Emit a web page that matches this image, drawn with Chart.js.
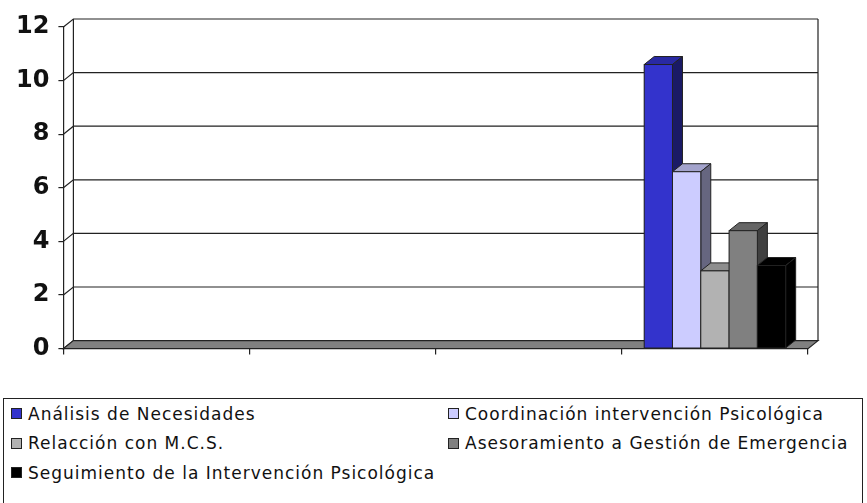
<!DOCTYPE html>
<html>
<head>
<meta charset="utf-8">
<script src="https://cdn.jsdelivr.net/npm/chart.js@4"></script>
<style>
  body { margin: 0; background: #fff; }
  #wrap { position: relative; width: 867px; height: 503px; }
  #chart { position: absolute; left: 0; top: 0; }
  #legend {
    position: absolute; left: 3px; top: 398px; width: 860px; height: 110px;
    border: 1.5px solid #222; box-sizing: border-box;
    font-family: "DejaVu Sans", sans-serif; font-size: 17px; color: #111;
    display: grid; grid-template-columns: 437px 1fr; grid-auto-rows: 29.5px;
    padding: 0 0 0 7px;
  }
  #legend span.item { display: flex; align-items: center; white-space: nowrap; letter-spacing: 1px; }
  #legend i { display: inline-block; width: 9px; height: 9px; border: 1px solid #222; margin-right: 6px; }
</style>
</head>
<body>
<div id="wrap">
  <canvas id="chart" width="867" height="372"></canvas>
  <div id="legend"></div>
</div>
<script>
// four categories, only the last one has data
const categories = ['', '', '', ''];
const seriesNames = [
  'Análisis de Necesidades',
  'Coordinación intervención Psicológica',
  'Relacción con M.C.S.',
  'Asesoramiento a Gestión de Emergencia',
  'Seguimiento de la Intervención Psicológica'
];
const seriesValues = [
  [0, 0, 0, 10.6],
  [0, 0, 0, 6.6],
  [0, 0, 0, 2.9],
  [0, 0, 0, 4.4],
  [0, 0, 0, 3.1]
];
const frontColors = ['#3333CC', '#CCCCFF', '#B2B2B2', '#808080', '#000000'];
const topColors   = ['#2929A3', '#A3A3CC', '#8E8E8E', '#666666', '#000000'];
const sideColors  = ['#1A1A66', '#666680', '#595959', '#404040', '#000000'];
const yTicks = [0, 2, 4, 6, 8, 10, 12];

// 3D depth offset
const DX = 10, DY = -8;

const depthPlugin = {
  id: 'depth',
  beforeDatasetsDraw(chart) {
    const { ctx, chartArea: a, scales: { y } } = chart;
    ctx.save();
    ctx.strokeStyle = '#222';
    ctx.lineWidth = 1.2;
    // gridlines on the left wall and back wall
    yTicks.forEach(v => {
      const py = y.getPixelForValue(v);
      ctx.beginPath();
      ctx.moveTo(a.left, py);
      ctx.lineTo(a.left + DX, py + DY);
      if (v > 0) ctx.lineTo(a.right + DX, py + DY);
      ctx.stroke();
    });
    // wall edges
    const yTop = y.getPixelForValue(12), yBot = y.getPixelForValue(0);
    ctx.beginPath();
    ctx.moveTo(a.left + DX, yTop + DY); ctx.lineTo(a.left + DX, yBot + DY);
    ctx.moveTo(a.right + DX, yTop + DY); ctx.lineTo(a.right + DX, yBot + DY);
    ctx.stroke();
    // floor
    ctx.beginPath();
    ctx.moveTo(a.left, yBot);
    ctx.lineTo(a.right, yBot);
    ctx.lineTo(a.right + DX, yBot + DY);
    ctx.lineTo(a.left + DX, yBot + DY);
    ctx.closePath();
    ctx.fillStyle = '#808080';
    ctx.fill();
    ctx.stroke();
    ctx.restore();
  },
  afterDatasetsDraw(chart) {
    // draw the bars left to right: top, side, then front over them
    const { ctx } = chart;
    ctx.save();
    ctx.strokeStyle = '#222';
    ctx.lineWidth = 1;
    chart.data.datasets.forEach((ds, i) => {
      chart.getDatasetMeta(i).data.forEach(bar => {
        const p = bar.getProps(['x', 'y', 'base', 'width'], true);
        if (p.base - p.y < 0.5) return;
        const l = p.x - p.width / 2, r = p.x + p.width / 2;
        ctx.beginPath();
        ctx.moveTo(l, p.y); ctx.lineTo(l + DX, p.y + DY);
        ctx.lineTo(r + DX, p.y + DY); ctx.lineTo(r, p.y);
        ctx.closePath();
        ctx.fillStyle = topColors[i]; ctx.fill(); ctx.stroke();
        ctx.beginPath();
        ctx.moveTo(r, p.y); ctx.lineTo(r + DX, p.y + DY);
        ctx.lineTo(r + DX, p.base + DY); ctx.lineTo(r, p.base);
        ctx.closePath();
        ctx.fillStyle = sideColors[i]; ctx.fill(); ctx.stroke();
        ctx.fillStyle = frontColors[i];
        ctx.fillRect(l, p.y, r - l, p.base - p.y);
        ctx.strokeRect(l, p.y, r - l, p.base - p.y);
      });
    });
    ctx.restore();
  }
};

const datasets = seriesNames.map((name, i) => ({
  label: name,
  data: seriesValues[i],
  backgroundColor: frontColors[i],
  borderColor: '#222',
  borderWidth: 1
}));

new Chart(document.getElementById('chart'), {
  type: 'bar',
  data: { labels: categories, datasets },
  plugins: [depthPlugin],
  options: {
    responsive: false,
    animation: false,
    layout: { padding: { left: 7, right: 59, top: 27, bottom: 5 } },
    datasets: { bar: { categoryPercentage: 0.76, barPercentage: 1.0 } },
    plugins: { legend: { display: false }, tooltip: { enabled: false } },
    scales: {
      x: {
        grid: { display: true, offset: true, drawOnChartArea: false, tickLength: 6, color: '#222', lineWidth: 1.2 },
        border: { display: false },
        ticks: { display: false }
      },
      y: {
        min: 0, max: 12,
        afterBuildTicks: s => { s.ticks = yTicks.map(v => ({ value: v })); },
        grid: { drawOnChartArea: false, tickLength: 5, color: '#222', lineWidth: 1.2 },
        border: { display: true, color: '#222', width: 1.2 },
        ticks: {
          padding: 9, color: '#111',
          font: { family: 'DejaVu Sans', size: 24, weight: 'bold' }
        }
      }
    }
  }
});

// legend built from the same series arrays
const legend = document.getElementById('legend');
seriesNames.forEach((name, i) => {
  const s = document.createElement('span');
  s.className = 'item';
  s.innerHTML = '<i style="background:' + frontColors[i] + '"></i>';
  s.appendChild(document.createTextNode(name));
  legend.appendChild(s);
});
</script>
</body>
</html>
